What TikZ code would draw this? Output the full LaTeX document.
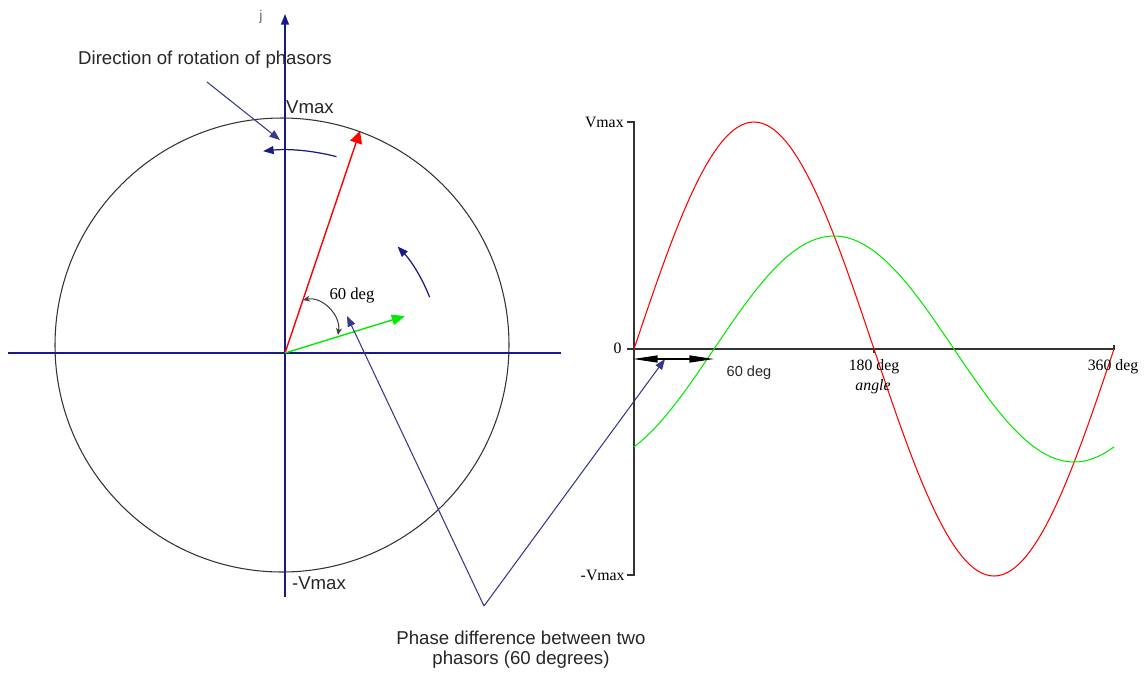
\documentclass[tikz,border=0pt]{standalone}
\usepackage{fontspec}
\setmainfont{Liberation Serif}
\setsansfont{Liberation Sans}
\usetikzlibrary{arrows.meta}
\definecolor{axisblue}{RGB}{25,25,135}
\definecolor{pointblue}{RGB}{55,55,140}
\definecolor{phasorred}{RGB}{255,0,0}
\definecolor{phasorgreen}{RGB}{0,235,0}

\begin{document}
\begin{tikzpicture}[x=0.02cm, y=-0.02cm,
  every node/.style={inner sep=0pt},
  sanslabel/.style={font=\sffamily\fontsize{10.6}{11.4}\selectfont, text=black!85},
  graphlabel/.style={font=\rmfamily\fontsize{9}{10}\selectfont},
  pointer/.style={pointblue, line width=0.6pt, -{Triangle[length=6pt,width=4.5pt]}},
  rotarrow/.style={axisblue, line width=0.7pt, -{Triangle[length=6pt,width=4.5pt]}}]
  \useasboundingbox (0,0) rectangle (1147,674);

  % Phasor circle and axes
  \draw[black!80, line width=0.6pt] (282,345) circle[radius=227];
  \coordinate (O) at (285,353);
  \coordinate (jtop) at (285,14);
  \coordinate (jbot) at (285,597);
  \coordinate (xleft) at (8,353);
  \coordinate (xright) at (561,353);
  \draw[axisblue, line width=0.7pt] (xleft) -- (xright);
  \draw[axisblue, line width=0.7pt, -{Triangle[length=6pt,width=4.5pt]}] (jbot) -- (jtop);

  % The two phasors
  \coordinate (Vred) at (360,131);
  \coordinate (Vgreen) at (405,316);
  \draw[phasorred, line width=0.8pt, -{Triangle[length=7pt,width=7pt]}] (O) -- (Vred);
  \draw[phasorgreen, line width=0.8pt, -{Triangle[length=7.5pt,width=6pt]}] (O) -- (Vgreen);

  % Angle between them
  \coordinate (angred) at (303,300);
  \coordinate (anggreen) at (338,335);
  \draw[black!75, line width=0.6pt, {Stealth[length=4pt,width=3.5pt]}-{Stealth[length=4pt,width=3.5pt]}]
    (angred) .. controls (322,296) and (341,315) .. (anggreen);

  % Rotation arrows
  \draw[rotarrow] (O) ++(-75.3:203) arc[start angle=-75.3, end angle=-96.2, radius=203];
  \draw[rotarrow] (O) ++(-21.1:155) arc[start angle=-21.1, end angle=-43.4, radius=155];

  % Labels on the phasor side
  \node[font=\sffamily\fontsize{8}{9}\selectfont, text=black!60] (jlabel) at (261,17) {j};
  \node[sanslabel] (vmax) at (310,107) {Vmax};
  \node[sanslabel] (minusvmax) at (319,583) {-Vmax};
  \node[sanslabel] (dirtext) at (205,60) {Direction of rotation of phasors};
  \node[font=\rmfamily\fontsize{9.5}{10}\selectfont] (sixtydeg) at (352,296) {60 deg};
  \node[sanslabel, align=center] (phasetext) at (521,650) {Phase difference between two\\phasors (60 degrees)};

  % Pointers
  \coordinate (dirstart) at (207,82);
  \coordinate (dirend) at (280,140);
  \draw[pointer] (dirstart) -- (dirend);
  \coordinate (vbottom) at (484,606);
  \coordinate (angletip) at (347,316);
  \coordinate (gaptip) at (665,359);
  \draw[pointer] (vbottom) -- (angletip);
  \draw[pointer] (vbottom) -- (gaptip);

  % Waveform axes
  \coordinate (gtop) at (634,122);
  \coordinate (gbot) at (634,575);
  \coordinate (gend) at (1114,349);
  \draw[black!80, line width=0.7pt] (627,122) -- (gtop) -- (gbot) -- (627,575);
  \draw[black!80, line width=0.7pt] (627,349) -- (gend) -- (1114,345);
  \draw[black!80, line width=0.6pt] (874,349) -- (874,353);

  % Waveforms
  \draw[phasorred, line width=0.6pt] plot[domain=0:360, samples=121] ({634+4*\x/3}, {349-227*sin(\x)});
  \draw[phasorgreen, line width=0.6pt] plot[domain=0:360, samples=121] ({634+4*\x/3}, {349-113*sin(\x-60)});

  % Phase gap
  \coordinate (gap0) at (633,359);
  \coordinate (gap60) at (714,359);
  \draw[black, line width=0.7pt, {Triangle[length=14pt,width=4pt]}-{Triangle[length=14pt,width=4pt]}] (gap0) -- (gap60);

  % Waveform labels
  \node[graphlabel, anchor=east] (gvmax) at (624,122) {Vmax};
  \node[graphlabel, anchor=east] (gzero) at (622,348) {0};
  \node[graphlabel, anchor=east] (gminus) at (625,575) {-Vmax};
  \node[graphlabel] (l180) at (874,367) {180 deg};
  \node[graphlabel, font=\rmfamily\itshape\fontsize{9}{10}\selectfont] (langle) at (873,387) {angle};
  \node[graphlabel] (l360) at (1113,367) {360 deg};
  \node[font=\sffamily\fontsize{8.3}{9}\selectfont, text=black!85] (l60) at (749,373) {60 deg};
\end{tikzpicture}
\end{document}
